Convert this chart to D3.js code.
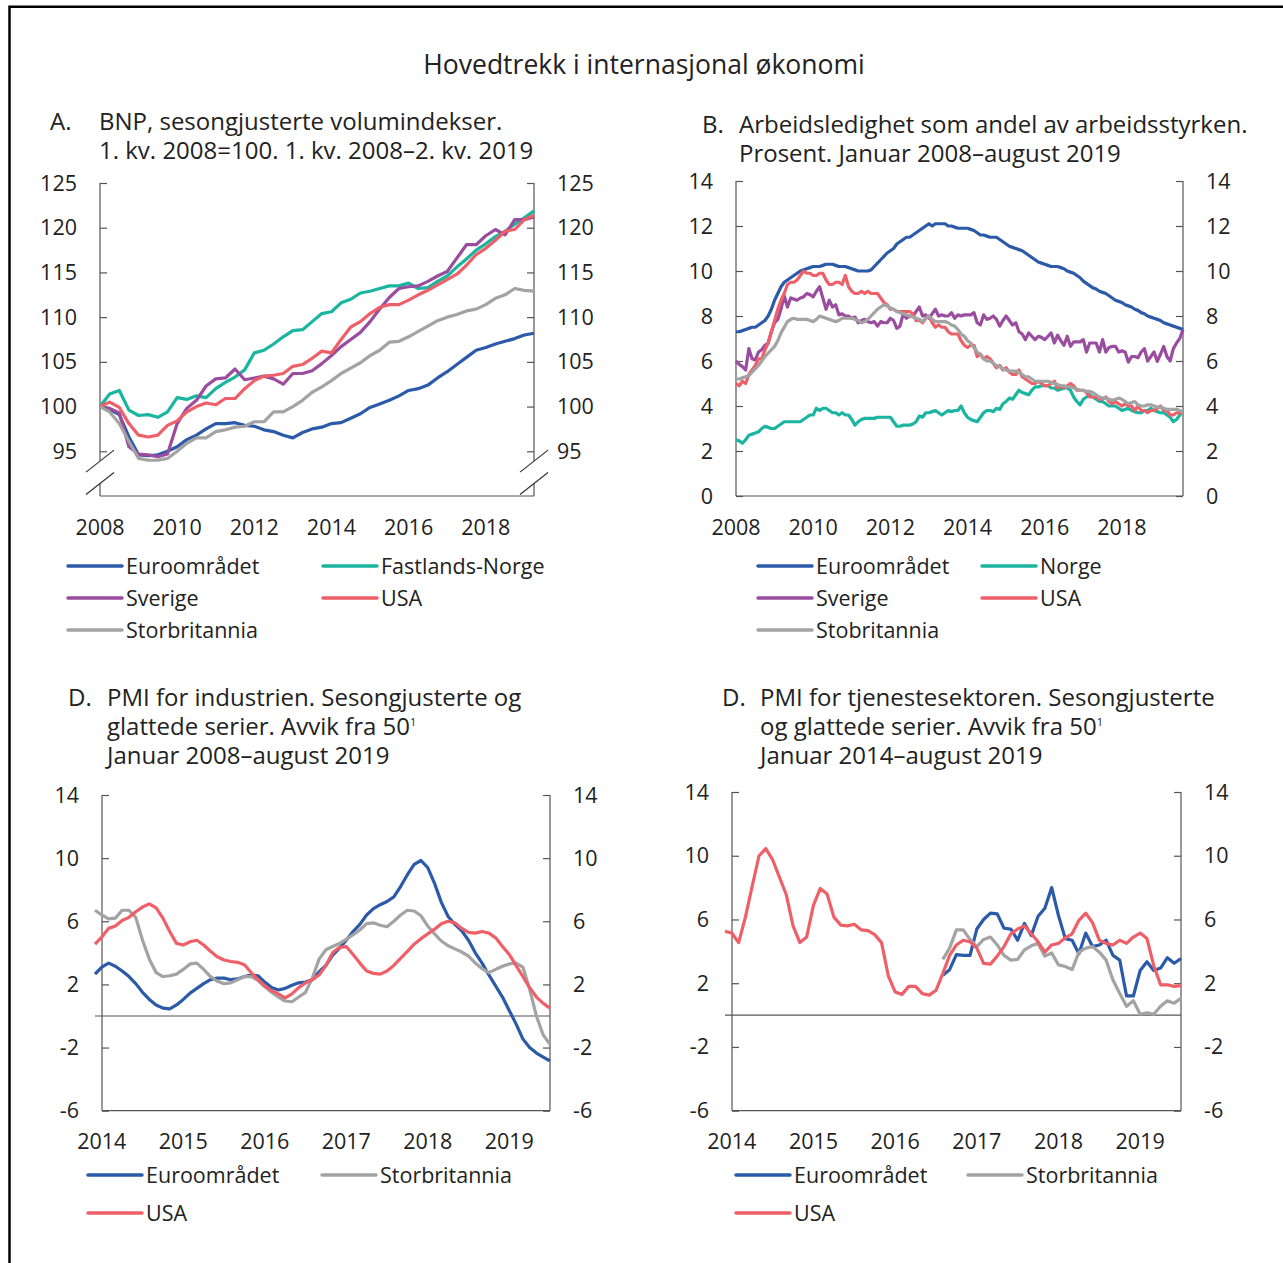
<!DOCTYPE html>
<html>
<head>
<meta charset="utf-8">
<script src="https://cdn.jsdelivr.net/npm/d3@7"></script>
<style>
  body { margin: 0; background: #fff; }
  text { fill: #222; }
</style>
</head>
<body>
<div id="chart"></div>
<script>
// ---- colours / series names
var colEuro = "#2b5aa8";
var colNorge = "#1ab5a0";
var colSverige = "#9a4c9f";
var colUSA = "#ef5f68";
var colUK = "#a3a3a3";

// ---- A. BNP, quarterly 2008Q1-2019Q2
var bnpEuro = [100,99.7,99.1,96.6,94.6,94.5,94.6,95.0,95.5,96.3,96.8,97.5,98.1,98.1,98.2,97.9,97.8,97.4,97.2,96.8,96.5,97.1,97.5,97.7,98.1,98.2,98.7,99.2,99.9,100.3,100.7,101.2,101.8,102.0,102.4,103.2,103.9,104.7,105.5,106.3,106.6,107.0,107.3,107.6,108.0,108.2];
var bnpNorge = [100,101.4,101.8,99.6,99.0,99.1,98.8,99.4,101.0,100.8,101.2,101.0,102.0,102.7,103.3,104.1,106.0,106.3,107.0,107.8,108.5,108.6,109.5,110.4,110.6,111.6,112.0,112.7,112.9,113.2,113.5,113.5,113.8,113.2,113.3,114.0,114.6,115.6,116.5,117.5,118.2,119.0,119.6,120.4,121.1,121.9];
var bnpSverige = [100,99.8,99.3,95.5,94.7,94.6,94.4,94.7,98.1,99.8,100.7,102.3,103.1,103.2,104.2,103.0,103.2,103.4,103.1,102.5,103.7,103.7,104.0,104.8,105.7,106.7,107.5,108.3,109.5,110.9,112.2,113.2,113.4,113.5,114.0,114.6,115.1,116.6,118.1,118.1,119.1,119.8,119.2,120.9,120.9,121.2];
var bnpUSA = [100,100.5,99.9,98.1,96.8,96.6,96.8,97.9,98.4,99.4,100.0,100.4,100.2,100.9,100.9,102.0,102.9,103.4,103.5,103.7,104.5,104.7,105.4,106.2,106.0,107.5,108.9,109.5,110.4,111.1,111.4,111.4,111.9,112.5,113.0,113.6,114.2,114.8,115.8,117.0,117.7,118.6,119.6,119.8,120.9,121.4];
var bnpUK = [100,99.4,98.1,96.1,94.2,94.0,94.0,94.2,95.0,95.9,96.5,96.5,97.2,97.4,97.7,97.8,98.3,98.3,99.4,99.4,100.0,100.7,101.6,102.2,102.9,103.7,104.3,104.9,105.7,106.3,107.2,107.3,107.8,108.4,109.0,109.6,110.0,110.3,110.7,110.9,111.4,112.1,112.5,113.2,113.0,112.9];
var bnpTicks = [95,100,105,110,115,120,125];
var bnpYears = [2008,2010,2012,2014,2016,2018];

// ---- B. Arbeidsledighet, monthly Jan 2008 - Aug 2019
var ledEuro = [
  7.3,7.3,7.35,7.4,7.45,7.5,7.5,7.6,7.7,7.8,8.0,8.3,
  8.7,9.0,9.3,9.5,9.6,9.7,9.8,9.9,10.0,10.05,10.1,10.15,
  10.2,10.2,10.2,10.25,10.3,10.3,10.3,10.25,10.2,10.2,10.2,10.15,
  10.1,10.05,10.0,10.0,10.0,10.0,10.05,10.2,10.35,10.5,10.65,10.8,
  10.9,11.0,11.2,11.3,11.4,11.5,11.5,11.6,11.7,11.8,11.9,12.0,
  12.1,12.0,12.1,12.1,12.1,12.1,12.0,12.0,11.95,11.9,11.9,11.9,
  11.9,11.85,11.8,11.7,11.6,11.6,11.55,11.5,11.5,11.5,11.4,11.3,
  11.2,11.1,11.05,11.0,10.95,10.9,10.8,10.7,10.6,10.5,10.4,10.35,
  10.3,10.25,10.2,10.2,10.2,10.15,10.1,10.0,9.95,9.9,9.8,9.7,
  9.55,9.45,9.35,9.25,9.2,9.1,9.05,9.0,8.9,8.8,8.7,8.65,
  8.6,8.5,8.45,8.4,8.3,8.25,8.15,8.1,8.0,7.95,7.9,7.85,
  7.8,7.7,7.65,7.6,7.55,7.5,7.45,7.4];
var ledNorge = [
  2.5,2.45,2.35,2.5,2.7,2.75,2.8,2.85,3.0,3.1,3.05,3.0,
  3.0,3.1,3.2,3.3,3.3,3.3,3.3,3.3,3.3,3.4,3.5,3.6,
  3.6,3.9,3.8,3.9,3.9,3.8,3.7,3.7,3.6,3.7,3.6,3.6,
  3.4,3.15,3.3,3.4,3.45,3.45,3.45,3.45,3.5,3.5,3.5,3.5,
  3.5,3.3,3.1,3.1,3.15,3.15,3.15,3.2,3.3,3.55,3.5,3.7,
  3.7,3.75,3.8,3.7,3.6,3.7,3.8,3.75,3.8,3.8,4.0,3.7,
  3.5,3.4,3.35,3.3,3.5,3.7,3.8,3.8,3.75,3.9,3.85,4.1,
  4.2,4.35,4.3,4.5,4.7,4.6,4.55,4.5,4.7,4.85,4.85,4.9,
  4.9,4.9,4.8,4.8,4.7,4.75,4.8,4.8,4.7,4.4,4.2,4.05,
  4.3,4.4,4.5,4.4,4.3,4.2,4.2,4.1,4.0,4.0,4.0,3.9,
  3.8,3.85,3.9,3.8,3.75,3.7,3.7,3.8,3.8,3.9,3.8,3.75,
  3.7,3.7,3.6,3.5,3.3,3.4,3.6,3.8];
var ledSverige = [
  6.0,5.85,5.75,5.6,6.55,6.1,6.05,6.4,6.5,6.7,6.8,7.3,
  7.7,7.85,8.3,8.9,8.4,8.8,8.75,8.7,8.8,8.85,9.0,8.95,
  8.85,9.1,9.3,8.8,8.3,8.7,8.4,8.5,8.05,8.1,8.0,8.0,
  7.9,7.95,7.7,7.8,7.85,7.75,7.7,7.75,7.55,7.75,7.7,7.7,
  7.9,7.8,7.45,7.55,8.1,7.9,8.0,8.0,8.2,8.4,8.0,8.05,
  7.9,8.1,8.3,8.0,8.05,8.0,8.0,8.15,7.9,8.05,8.0,8.05,
  8.05,8.05,8.15,7.7,7.6,8.05,7.85,7.9,8.0,7.85,7.55,7.8,
  8.0,7.8,7.6,7.7,7.3,7.2,6.95,7.25,7.1,6.95,7.1,7.05,
  6.95,7.1,7.25,6.8,7.15,6.9,6.7,7.1,6.65,6.85,6.85,6.85,
  6.95,6.4,6.8,6.8,6.8,6.4,6.95,6.4,6.6,6.65,6.65,6.4,
  6.45,6.4,5.95,6.2,6.2,6.15,6.4,6.55,6.0,6.2,6.4,5.98,
  6.3,6.65,6.2,6.0,6.55,6.8,7.0,7.4];
var ledUSA = [
  5.0,4.9,5.1,5.0,5.4,5.6,5.8,6.1,6.1,6.5,6.8,7.3,
  7.8,8.3,8.7,9.0,9.4,9.5,9.5,9.6,9.8,10.0,9.9,9.9,
  9.8,9.8,9.9,9.9,9.6,9.4,9.4,9.5,9.5,9.4,9.8,9.3,
  9.1,9.0,9.0,9.1,9.0,9.1,9.0,9.0,9.0,8.8,8.6,8.5,
  8.3,8.3,8.2,8.2,8.2,8.2,8.2,8.1,7.8,7.8,7.7,7.9,
  8.0,7.7,7.5,7.6,7.5,7.5,7.3,7.2,7.2,7.2,6.9,6.7,
  6.6,6.7,6.7,6.2,6.3,6.1,6.2,6.1,5.9,5.7,5.8,5.6,
  5.7,5.5,5.4,5.4,5.6,5.3,5.2,5.1,5.0,5.0,5.1,5.0,
  4.9,4.9,5.0,5.1,4.8,4.9,4.8,4.9,5.0,4.9,4.7,4.7,
  4.7,4.6,4.4,4.4,4.4,4.3,4.3,4.4,4.2,4.1,4.2,4.1,
  4.0,4.1,4.0,4.0,3.8,4.0,3.8,3.8,3.7,3.8,3.8,3.9,
  4.0,3.8,3.8,3.6,3.6,3.7,3.7,3.7];
var ledUK = [
  5.2,5.2,5.25,5.3,5.35,5.5,5.65,5.8,6.0,6.2,6.35,6.5,
  6.65,6.9,7.25,7.5,7.75,7.85,7.9,7.85,7.85,7.85,7.85,7.8,
  7.75,7.85,8.0,7.95,7.9,7.85,7.8,7.75,7.8,7.9,7.9,7.9,
  7.9,7.85,7.8,7.7,7.75,7.85,8.0,8.15,8.3,8.4,8.5,8.45,
  8.35,8.3,8.2,8.15,8.1,8.05,8.0,7.95,7.9,7.85,7.75,7.9,
  8.0,7.85,7.75,7.75,7.75,7.75,7.7,7.6,7.55,7.4,7.2,7.1,
  6.9,6.8,6.6,6.4,6.3,6.1,6.0,6.0,5.9,5.8,5.75,5.65,
  5.6,5.55,5.55,5.55,5.5,5.4,5.3,5.3,5.2,5.1,5.1,5.1,
  5.1,5.1,5.05,5.0,4.95,4.9,4.9,4.85,4.85,4.8,4.75,4.7,
  4.7,4.65,4.65,4.6,4.5,4.4,4.35,4.35,4.3,4.25,4.3,4.35,
  4.3,4.2,4.1,4.15,4.2,4.05,4.0,4.0,4.05,4.05,4.0,3.95,
  3.95,3.9,3.85,3.85,3.85,3.85,3.8,3.7];
var ledTicks = [0,2,4,6,8,10,12,14];
var ledYears = [2008,2010,2012,2014,2016,2018];

// ---- C. PMI industri, monthly Jan 2014 - Aug 2019
var pmiIndEuro = [2.65,3.1,3.35,3.15,2.85,2.5,2.05,1.5,1.05,0.7,0.5,0.45,
  0.7,1.05,1.45,1.75,2.05,2.3,2.4,2.4,2.3,2.35,2.5,2.6,
  2.55,2.15,1.8,1.65,1.75,1.95,2.1,2.15,2.3,2.8,3.2,3.85,
  4.3,4.8,5.35,5.8,6.4,6.8,7.05,7.25,7.55,8.2,8.95,9.6,
  9.85,9.4,8.4,7.2,6.3,5.8,5.4,4.8,4.0,3.35,2.6,1.9,
  1.2,0.35,-0.5,-1.45,-2.0,-2.35,-2.6,-2.85];
var pmiIndUK = [6.7,6.4,6.15,6.2,6.7,6.7,6.25,4.8,3.6,2.75,2.5,2.55,
  2.65,2.95,3.3,3.35,2.95,2.5,2.2,2.05,2.1,2.3,2.5,2.5,
  2.25,1.85,1.5,1.2,0.95,0.9,1.2,1.5,2.4,3.6,4.2,4.4,
  4.6,4.85,5.15,5.45,5.85,5.9,5.75,5.65,6.0,6.4,6.7,6.65,
  6.35,5.7,5.2,4.75,4.45,4.25,4.05,3.8,3.35,3.0,2.75,2.95,
  3.15,3.3,3.35,3.1,1.7,0.0,-1.2,-1.8];
var pmiIndUSA = [4.55,5.0,5.55,5.7,6.05,6.25,6.6,6.9,7.1,6.85,6.2,5.35,
  4.6,4.5,4.7,4.8,4.5,4.1,3.75,3.55,3.45,3.4,3.25,2.75,
  2.3,1.9,1.6,1.4,1.15,1.4,1.8,2.1,2.3,2.6,3.2,4.0,
  4.35,4.4,3.9,3.35,2.85,2.7,2.65,2.85,3.2,3.65,4.1,4.55,
  4.9,5.2,5.5,5.85,6.0,5.9,5.55,5.3,5.25,5.35,5.25,4.95,
  4.4,3.9,3.2,2.5,1.8,1.2,0.8,0.5];

// ---- D. PMI tjenester, monthly Jan 2014 - Aug 2019 (Euro/UK from Sep 2016)
var pmiTjUSA = [5.25,5.15,4.55,6.15,8.1,10.0,10.45,9.75,8.65,7.55,5.6,4.55,
  4.9,6.9,7.95,7.6,6.15,5.65,5.6,5.7,5.35,5.3,5.05,4.55,
  2.45,1.45,1.3,1.8,1.8,1.35,1.25,1.55,2.6,3.75,4.4,4.7,
  4.6,4.2,3.25,3.2,3.7,4.3,5.1,5.4,5.6,5.1,4.6,3.95,
  4.4,4.5,4.85,5.1,5.95,6.4,5.8,4.7,4.5,4.4,4.7,4.5,
  4.9,5.15,4.8,3.1,1.9,1.9,1.8,1.85];
var pmiTjStart = 32;
var pmiTjEuro = [2.5,2.85,3.8,3.75,3.75,5.4,6.0,6.4,6.35,5.45,5.4,4.7,
  5.75,5.0,6.2,6.7,8.0,6.25,4.8,4.7,3.85,5.15,4.3,4.4,
  4.7,3.75,3.45,1.2,1.2,2.8,3.35,2.8,2.95,3.6,3.25,3.55];
var pmiTjUK = [3.5,4.2,5.35,5.35,4.75,4.3,4.75,4.9,4.4,3.75,3.45,3.5,
  4.1,4.35,4.5,3.7,3.9,3.15,3.05,2.85,3.95,4.2,4.3,3.95,
  3.45,2.2,1.35,0.55,0.9,0.05,0.15,0.05,0.55,0.9,0.75,1.05];
var pmiTicks = [-6,-2,2,6,10,14];
var pmiYears = [2014,2015,2016,2017,2018,2019];

// ---------------------------------------------------------------
var svg = d3.select("#chart").append("svg")
    .attr("width", 1283)
    .attr("height", 1263)
    .style("font-family", "'Open Sans', sans-serif");

// frame (left + top)
svg.append("path")
   .attr("d", "M9.5,1263V6.8H1283")
   .attr("fill", "none")
   .attr("stroke", "#000")
   .attr("stroke-width", 2.5);

svg.append("text")
   .attr("x", 644).attr("y", 65).attr("dy", "0.35em")
   .attr("text-anchor", "middle")
   .style("font-size", "26.5px")
   .text("Hovedtrekk i internasjonal økonomi");

var axisColor = "#555";
var tickFont = "21.5px";
var titleFont = "24px";

function toSeries(values, start, t0, step){
    return values.map(function(v, i){ return {t: t0 + (start + i) * step, v: v}; });
}

function drawPanel(p){
    var g = svg.append("g");
    var x = d3.scaleLinear().domain(p.xDomain).range(p.xRange);
    var y = d3.scaleLinear().domain(p.yDomain).range([p.bottom, p.top]);

    // vertical axis lines
    [p.axL, p.axR].forEach(function(ax){
        if (p.brk) {
            g.append("line").attr("x1", ax).attr("x2", ax)
             .attr("y1", y(p.yDomain[1])).attr("y2", y(p.brk[0]))
             .attr("stroke", axisColor).attr("stroke-width", 1.2);
            g.append("line").attr("x1", ax).attr("x2", ax)
             .attr("y1", y(p.brk[1])).attr("y2", y(p.yDomain[0]))
             .attr("stroke", axisColor).attr("stroke-width", 1.2);
            p.brk.forEach(function(b){
                g.append("line")
                 .attr("x1", ax - 14).attr("y1", y(b) + 11)
                 .attr("x2", ax + 14).attr("y2", y(b) - 11)
                 .attr("stroke", "#333").attr("stroke-width", 1.2);
            });
        } else {
            g.append("line").attr("x1", ax).attr("x2", ax)
             .attr("y1", y(p.yDomain[1])).attr("y2", y(p.yDomain[0]))
             .attr("stroke", axisColor).attr("stroke-width", 1.2);
        }
    });
    // bottom line
    g.append("line").attr("x1", p.axL).attr("x2", p.axR)
     .attr("y1", p.bottom).attr("y2", p.bottom)
     .attr("stroke", axisColor).attr("stroke-width", 1.2);

    // ticks pointing inward
    g.append("g").attr("transform", "translate(" + p.axL + ",0)")
     .call(d3.axisRight(y).tickValues(p.yTicks).tickSize(7).tickSizeOuter(0).tickFormat(""))
     .call(function(a){ a.select(".domain").remove(); a.selectAll("line").attr("stroke", axisColor).attr("stroke-width", 1.2); });
    g.append("g").attr("transform", "translate(" + p.axR + ",0)")
     .call(d3.axisLeft(y).tickValues(p.yTicks).tickSize(7).tickSizeOuter(0).tickFormat(""))
     .call(function(a){ a.select(".domain").remove(); a.selectAll("line").attr("stroke", axisColor).attr("stroke-width", 1.2); });

    // tick labels
    g.selectAll("text.yl").data(p.yTicks).join("text")
     .attr("x", p.axL - 23).attr("y", function(d){ return y(d); }).attr("dy", "0.35em")
     .attr("text-anchor", "end").style("font-size", tickFont)
     .text(function(d){ return d; });
    g.selectAll("text.yr").data(p.yTicks).join("text")
     .attr("x", p.axR + 23).attr("y", function(d){ return y(d); }).attr("dy", "0.35em")
     .attr("text-anchor", "start").style("font-size", tickFont)
     .text(function(d){ return d; });
    g.selectAll("text.xl").data(p.years).join("text")
     .attr("x", function(d){ return x(d + p.yearShift); })
     .attr("y", p.bottom + 31).attr("dy", "0.35em")
     .attr("text-anchor", "middle").style("font-size", tickFont)
     .text(function(d){ return d; });

    if (p.zero) {
        g.append("line").attr("x1", p.xRange[0]).attr("x2", p.axR)
         .attr("y1", y(0)).attr("y2", y(0))
         .attr("stroke", axisColor).attr("stroke-width", 1.2);
    }

    var line = d3.line().x(function(d){ return x(d.t); }).y(function(d){ return y(d.v); });
    p.series.forEach(function(s){
        g.append("path")
         .datum(toSeries(s.values, s.start || 0, p.xDomain[0], p.step))
         .attr("fill", "none")
         .attr("stroke", s.color)
         .attr("stroke-width", 3.2)
         .attr("stroke-linejoin", "round")
         .attr("d", line);
    });

    // title
    g.append("text").attr("x", p.titleX[0]).attr("y", p.titleY).attr("dy", "0.35em")
     .style("font-size", titleFont).text(p.letter);
    p.title.forEach(function(t, i){
        var tx = g.append("text").attr("x", p.titleX[1]).attr("y", p.titleY + i * 29).attr("dy", "0.35em")
                  .style("font-size", titleFont);
        if (t.indexOf("^1") >= 0) {
            tx.append("tspan").text(t.replace("^1", ""));
            tx.append("tspan").attr("dy", "-9").style("font-size", "11px").text("1");
        } else {
            tx.text(t);
        }
    });

    // legend
    p.series.forEach(function(s, i){
        var lx = p.legX[i % 2], ly = p.legY + Math.floor(i / 2) * p.legStep;
        g.append("line").attr("x1", lx).attr("x2", lx + 54).attr("y1", ly).attr("y2", ly)
         .attr("stroke", s.color).attr("stroke-width", 3.5).attr("stroke-linecap", "round");
        g.append("text").attr("x", lx + 58).attr("y", ly).attr("dy", "0.35em")
         .style("font-size", tickFont).text(s.name);
    });
}

drawPanel({
    letter: "A.", titleX: [50, 99], titleY: 122,
    title: ["BNP, sesongjusterte volumindekser.", "1. kv. 2008=100. 1. kv. 2008\u20132. kv. 2019"],
    axL: 100, axR: 534, top: 183, bottom: 496,
    yDomain: [90, 125], yTicks: bnpTicks, brk: [93.9, 91.4],
    xDomain: [2008, 2019.25], xRange: [100, 534], step: 0.25,
    years: bnpYears, yearShift: 0,
    series: [
        {name: "Euroområdet", color: colEuro, values: bnpEuro},
        {name: "Fastlands-Norge", color: colNorge, values: bnpNorge},
        {name: "Sverige", color: colSverige, values: bnpSverige},
        {name: "USA", color: colUSA, values: bnpUSA},
        {name: "Storbritannia", color: colUK, values: bnpUK}
    ],
    legX: [68, 323], legY: 566, legStep: 32
});

drawPanel({
    letter: "B.", titleX: [702, 739], titleY: 125,
    title: ["Arbeidsledighet som andel av arbeidsstyrken.", "Prosent. Januar 2008\u2013august 2019"],
    axL: 736, axR: 1183, top: 181, bottom: 496,
    yDomain: [0, 14], yTicks: ledTicks,
    xDomain: [2008, 2008 + 139 / 12], xRange: [736, 1183], step: 1 / 12,
    years: ledYears, yearShift: 0,
    series: [
        {name: "Euroområdet", color: colEuro, values: ledEuro},
        {name: "Norge", color: colNorge, values: ledNorge},
        {name: "Sverige", color: colSverige, values: ledSverige},
        {name: "USA", color: colUSA, values: ledUSA},
        {name: "Stobritannia", color: colUK, values: ledUK}
    ],
    legX: [758, 982], legY: 566, legStep: 32
});

drawPanel({
    letter: "D.", titleX: [68, 107], titleY: 698,
    title: ["PMI for industrien. Sesongjusterte og", "glattede serier. Avvik fra 50^1", "Januar 2008\u2013august 2019"],
    axL: 102, axR: 550, top: 795, bottom: 1110.7,
    yDomain: [-6, 14], yTicks: pmiTicks, zero: true,
    xDomain: [2014, 2014 + 67 / 12], xRange: [95, 550], step: 1 / 12,
    years: pmiYears, yearShift: 1 / 12,
    series: [
        {name: "Euroområdet", color: colEuro, values: pmiIndEuro},
        {name: "Storbritannia", color: colUK, values: pmiIndUK},
        {name: "USA", color: colUSA, values: pmiIndUSA}
    ],
    legX: [88, 322], legY: 1175, legStep: 38
});

drawPanel({
    letter: "D.", titleX: [722, 760], titleY: 698,
    title: ["PMI for tjenestesektoren. Sesongjusterte", "og glattede serier. Avvik fra 50^1", "Januar 2014\u2013august 2019"],
    axL: 732, axR: 1181, top: 792, bottom: 1110.7,
    yDomain: [-6, 14], yTicks: pmiTicks, zero: true,
    xDomain: [2014, 2014 + 67 / 12], xRange: [725, 1181], step: 1 / 12,
    years: pmiYears, yearShift: 1 / 12,
    series: [
        {name: "Euroområdet", color: colEuro, values: pmiTjEuro, start: pmiTjStart},
        {name: "Storbritannia", color: colUK, values: pmiTjUK, start: pmiTjStart},
        {name: "USA", color: colUSA, values: pmiTjUSA}
    ],
    legX: [736, 968], legY: 1175, legStep: 38
});
</script>
</body>
</html>
